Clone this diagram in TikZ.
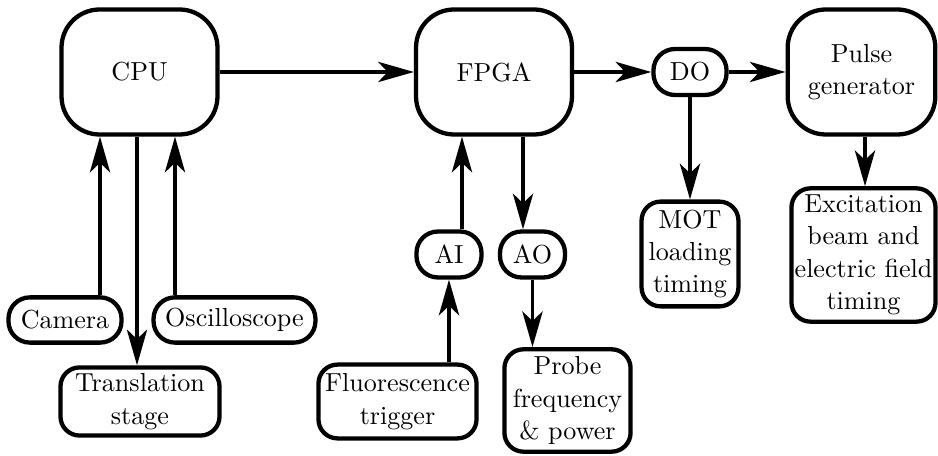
\documentclass[tikz,border=0pt]{standalone}
\usetikzlibrary{arrows.meta,calc}

\begin{document}
\begin{tikzpicture}[
    x=0.42pt, y=-0.42pt,
    font=\fontsize{10.95}{13.6}\selectfont,
    unit/.style={rectangle, draw, line width=1.8pt, rounded corners=16pt, minimum width=65.5pt, minimum height=52.5pt, align=center, inner sep=0.5pt},
    port/.style={rectangle, draw, line width=1.8pt, rounded corners=9pt, minimum height=19.3pt, align=center, inner sep=0.5pt},
    device/.style={rectangle, draw, line width=1.8pt, rounded corners=8pt, align=center, inner sep=0.5pt},
    signal/.style={-{Stealth[length=15pt,width=8.5pt,inset=4pt]}, line width=1.5pt}
]
\useasboundingbox (0,0) rectangle (938,456);

% Main units
\node[unit] (cpu) at (139.5,72) {CPU};
\node[unit] (fpga) at (494,72) {FPGA};
\node[unit, minimum width=62pt] (pulse) at (861.5,72) {Pulse\\generator};

% FPGA channels
\node[port, minimum width=30.7pt] (do) at (690,72) {DO};
\node[port, minimum width=27.3pt] (ai) at (449,254.5) {AI};
\node[port, minimum width=27.3pt] (ao) at (532.5,254.5) {AO};

% Devices and outputs
\node[port, minimum width=47.5pt, minimum height=19pt] (camera) at (65,320) {Camera};
\node[port, minimum width=68pt, minimum height=19pt] (scope) at (234.5,320) {Oscilloscope};
\node[device, minimum width=66.8pt, minimum height=28.6pt] (stage) at (140,401.5) {Translation\\stage};
\node[device, minimum width=66.4pt, minimum height=31pt] (fluo) at (397.5,401.5) {Fluorescence\\trigger};
\node[device, minimum width=53pt, minimum height=43pt] (probe) at (567.5,400.5) {Probe\\frequency\\\& power};
\node[device, minimum width=40.7pt, minimum height=44pt] (mot) at (690,254) {MOT\\loading\\timing};
\node[device, minimum width=60.5pt, minimum height=56pt] (exc) at (863.5,255) {Excitation\\beam and\\electric field\\timing};

% Line positions
\coordinate (camx) at (100,0);
\coordinate (stagex) at (137,0);
\coordinate (scopex) at (175,0);
\coordinate (aix) at (462,0);
\coordinate (aox) at (523,0);
\coordinate (excx) at (865,0);

% Signals
\draw[signal] (cpu) -- (fpga);
\draw[signal] (fpga) -- (do);
\draw[signal] (do) -- (pulse);
\draw[signal] (camera.north -| camx) -- (cpu.south -| camx);
\draw[signal] (scope.north -| scopex) -- (cpu.south -| scopex);
\draw[signal] (cpu.south -| stagex) -- (stage.north -| stagex);
\draw[signal] (ai.north -| aix) -- (fpga.south -| aix);
\draw[signal] (fpga.south -| aox) -- (ao.north -| aox);
\draw[signal] (fluo.north -| ai.south) -- (ai.south);
\draw[signal] (ao.south) -- (ao.south |- probe.north);
\draw[signal] (do) -- (mot);
\draw[signal] (pulse.south -| excx) -- (exc.north -| excx);

\end{tikzpicture}
\end{document}
